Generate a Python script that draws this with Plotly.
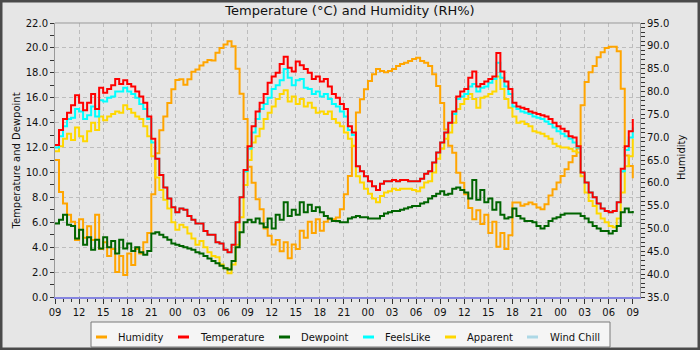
import pandas as pd
import plotly.graph_objects as go

# ---- data: 30-minute readings, 09:00 day 1 to 09:00 day 4 ----
start = pd.Timestamp("2024-05-10 09:00")
times = pd.date_range(start, periods=145, freq="30min")

hour_labels = ["09", "12", "15", "18", "21", "00", "03", "06"]

humidity = [
    65.0, 58.0, 55.5, 53.0, 51.5, 47.5, 52.0, 48.0, 50.5, 47.5, 53.0, 45.5,
    47.0, 44.0, 45.5, 40.5, 44.0, 39.8, 44.5, 42.0, 45.5, 44.5, 47.0, 49.0,
    57.5, 66.5, 71.5, 74.5, 77.5, 80.5, 82.5, 82.7, 81.5, 82.7, 84.3, 84.8,
    85.7, 86.4, 86.9, 86.8, 88.5, 89.5, 90.3, 91.0, 89.9, 85.0, 79.5, 74.0,
    63.5, 60.0, 56.4, 54.2, 50.0, 48.4, 46.5, 47.5, 45.0, 47.0, 43.5, 46.5,
    45.5, 49.5, 48.0, 51.5, 49.0, 52.0, 49.5, 51.5, 52.0, 52.0, 52.4, 54.2,
    57.5, 61.5, 68.1, 75.4, 78.3, 80.5, 82.3, 83.8, 84.9, 84.5, 84.2, 84.5,
    84.9, 85.6, 86.0, 86.3, 86.7, 87.1, 87.4, 86.7, 86.3, 85.6, 83.8, 81.2,
    77.5, 71.7, 68.1, 66.6, 62.2, 60.0, 57.5, 54.5, 52.0, 54.0, 51.0, 53.0,
    49.0, 51.5, 46.0, 49.0, 45.5, 48.5, 55.7, 55.7, 55.0, 55.3, 55.7, 55.3,
    54.6, 54.2, 55.3, 57.2, 58.6, 60.1, 61.5, 63.0, 64.5, 65.9, 67.5, 77.0,
    82.1, 84.2, 85.6, 87.5, 88.6, 89.5, 89.8, 89.8, 88.8, 80.6, 66.0, 63.7,
    61.0,
]

temperature = [
    12.2, 13.4, 14.3, 14.8, 15.4, 16.2, 15.6, 15.0, 15.6, 16.3, 15.1, 16.8,
    16.4, 16.7, 17.0, 17.5, 17.1, 17.4, 17.1, 16.9, 16.5, 16.1, 15.6, 14.5,
    12.7, 11.1, 9.8, 8.8, 7.9, 7.2, 6.8, 7.1, 7.0, 6.5, 6.2, 5.9,
    5.9, 5.3, 5.0, 5.0, 4.4, 4.3, 3.8, 3.6, 4.2, 6.0, 8.0, 10.2,
    12.1, 13.7, 14.9, 15.6, 16.3, 17.2, 17.7, 18.0, 18.7, 19.3, 18.4, 18.1,
    18.9, 18.6, 18.3, 18.0, 17.5, 17.7, 17.3, 17.5, 16.9, 16.3, 16.0, 15.5,
    15.1, 13.7, 13.2, 10.5, 10.1, 9.7, 9.3, 8.9, 8.6, 9.1, 9.3, 9.3,
    9.4, 9.3, 9.4, 9.4, 9.3, 9.3, 9.3, 9.5, 9.9, 10.1, 10.8, 11.6,
    12.4, 13.2, 14.0, 14.9, 16.1, 16.5, 16.7, 17.6, 18.1, 16.9, 17.1, 17.3,
    17.5, 17.7, 19.6, 18.1, 17.3, 16.7, 15.6, 15.3, 15.2, 15.1, 14.9, 14.8,
    14.7, 14.6, 14.5, 14.3, 14.0, 13.7, 13.5, 13.3, 12.9, 12.8, 12.1, 10.0,
    9.2, 8.4, 8.0, 7.5, 7.1, 6.9, 6.8, 6.9, 7.6, 10.3, 12.1, 13.3,
    14.3,
]

dewpoint = [
    5.9, 6.2, 6.6, 5.8, 5.7, 4.7, 5.4, 4.2, 4.8, 3.8, 4.6, 3.9,
    4.8, 4.0, 4.5, 3.5, 4.6, 3.9, 4.3, 3.7, 4.0, 3.6, 3.4, 3.7,
    5.1, 5.2, 5.0, 4.8, 4.6, 4.3, 4.2, 4.1, 4.0, 3.9, 3.8, 3.6,
    3.5, 3.3, 3.1, 2.9, 2.7, 2.5, 2.3, 2.2, 2.9, 4.0, 5.2, 6.0,
    6.2, 6.0, 6.3, 5.9, 5.6, 6.3, 5.5, 6.6, 6.2, 7.6, 6.5, 7.0,
    6.6, 7.6, 6.8, 7.4, 6.9, 7.2, 6.8, 6.5, 6.3, 6.1, 6.1, 6.0,
    6.0, 6.3, 6.4, 6.5, 6.4, 6.4, 6.3, 6.3, 6.3, 6.5, 6.7, 6.8,
    6.9, 6.9, 7.0, 7.1, 7.2, 7.3, 7.3, 7.5, 7.6, 7.9, 8.1, 8.3,
    8.5, 8.2, 8.3, 8.7, 8.8, 8.6, 8.4, 7.9, 9.4, 7.8, 8.6, 7.6,
    7.9, 7.0, 7.6, 6.6, 6.3, 6.4, 7.1, 6.5, 6.3, 6.1, 6.1, 6.0,
    5.7, 5.5, 5.7, 6.1, 6.3, 6.4, 6.6, 6.7, 6.7, 6.7, 6.7, 6.5,
    6.3, 6.0, 5.7, 5.5, 5.3, 5.3, 5.1, 5.3, 5.7, 6.8, 7.1, 6.8,
    6.9,
]

feels_like = [
    12.0, 12.9, 13.7, 14.3, 14.4, 15.1, 14.9, 14.3, 14.6, 15.3, 14.5, 15.8,
    15.7, 16.0, 16.1, 16.5, 16.5, 16.8, 16.5, 16.3, 16.0, 15.5, 15.1, 14.3,
    12.4, 11.1, 9.8, 8.8, 7.9, 7.2, 6.8, 7.1, 7.0, 6.5, 6.2, 5.9,
    5.9, 5.3, 5.0, 5.0, 4.4, 4.3, 3.8, 3.6, 4.2, 6.0, 8.0, 10.1,
    11.9, 13.2, 14.3, 15.1, 15.5, 16.0, 16.7, 17.0, 17.4, 18.3, 17.6, 17.0,
    17.4, 17.5, 16.8, 16.7, 16.3, 16.5, 16.1, 16.3, 15.9, 15.5, 15.3, 14.9,
    14.5, 13.4, 13.0, 10.5, 10.1, 9.7, 9.3, 8.9, 8.6, 9.1, 9.3, 9.3,
    9.4, 9.3, 9.4, 9.4, 9.3, 9.3, 9.3, 9.5, 9.9, 10.1, 10.8, 11.6,
    12.4, 13.2, 14.0, 14.7, 15.9, 16.1, 16.3, 16.9, 17.1, 16.5, 16.8, 16.9,
    17.2, 17.5, 18.8, 17.6, 16.9, 16.3, 15.3, 15.1, 14.9, 14.8, 14.7, 14.5,
    14.4, 14.3, 14.1, 13.9, 13.6, 13.3, 13.1, 12.9, 12.7, 12.4, 12.0, 10.0,
    9.2, 8.4, 8.0, 7.5, 7.1, 6.9, 6.8, 6.9, 7.6, 10.1, 11.8, 12.8,
    13.6,
]

apparent = [
    11.7, 12.1, 12.7, 13.1, 12.6, 13.6, 12.9, 12.5, 13.3, 14.0, 13.4, 14.5,
    14.2, 14.5, 14.7, 14.9, 14.8, 15.4, 15.1, 14.8, 14.5, 14.3, 13.7, 12.9,
    11.3, 9.6, 8.6, 7.8, 7.1, 6.0, 5.4, 5.8, 5.6, 5.1, 4.7, 4.2,
    4.5, 4.0, 3.6, 3.3, 3.2, 2.6, 2.3, 1.9, 2.6, 4.2, 6.4, 9.0,
    11.0, 12.4, 12.9, 13.5, 14.3, 14.8, 15.3, 15.9, 16.3, 16.6, 15.7, 16.1,
    15.5, 15.9, 15.3, 15.6, 15.2, 14.8, 14.9, 14.7, 14.9, 14.3, 14.0, 13.7,
    13.2, 12.7, 12.1, 9.7, 9.2, 8.7, 8.3, 7.9, 7.6, 8.1, 8.4, 8.5,
    8.7, 8.6, 8.7, 8.7, 8.7, 8.6, 8.5, 8.8, 9.2, 9.3, 10.0, 11.1,
    11.9, 12.7, 13.2, 14.0, 15.1, 15.5, 15.9, 16.3, 15.9, 15.2, 16.0, 16.1,
    16.3, 16.5, 17.7, 16.7, 15.9, 15.2, 14.5, 14.0, 14.1, 13.9, 13.7, 13.3,
    13.2, 13.1, 12.9, 12.7, 12.3, 12.1, 12.0, 12.0, 11.9, 11.7, 11.6, 9.7,
    8.4, 7.7, 7.3, 6.7, 6.3, 6.0, 5.7, 5.6, 6.3, 8.4, 10.5, 11.3,
    12.7,
]

# legend entries in display order: (name, colour)
legend_items = [
    ("Humidity", "#FFA500"),
    ("Temperature", "#FF0000"),
    ("Dewpoint", "#006400"),
    ("FeelsLike", "#00FFFF"),
    ("Apparent", "#FFD700"),
    ("Wind Chill", "#ADD8E6"),
]
colour = dict(legend_items)

# ---- page geometry (pixels) ----
W, H = 700, 350
L, R, T, B = 55, 640, 23, 297
PW, PH = R - L, B - T
FONT = "DejaVu Sans"


def px(x):
    return (x - L) / PW


def py(y):
    return (B - y) / PH


fig = go.Figure()

# humidity sits on the primary (right-hand) axis so it is drawn underneath
fig.add_trace(go.Scatter(x=times, y=humidity, name="Humidity", yaxis="y",
                         mode="lines", line=dict(color=colour["Humidity"], width=2, shape="hv")))
for name, values in [("Apparent", apparent), ("FeelsLike", feels_like),
                     ("Dewpoint", dewpoint), ("Temperature", temperature)]:
    fig.add_trace(go.Scatter(x=times, y=values, name=name, yaxis="y2", mode="lines",
                             line=dict(color=colour[name], width=2, shape="hv")))

hours = pd.Timedelta(hours=1)
fig.update_layout(
    width=W, height=H,
    margin=dict(l=L, r=W - R, t=T, b=H - B, pad=0),
    paper_bgcolor="#e6e6e6", plot_bgcolor="#e6e6e6",
    showlegend=False,
    font=dict(family=FONT, size=10, color="#111111"),
    title=dict(text="Temperature (°C) and Humidity (RH%)", x=0.5, xref="container",
               xanchor="center", y=1 - 10 / H, yanchor="middle",
               font=dict(family=FONT, size=13, color="#111111")),
    xaxis=dict(
        type="date", range=[start, start + 72.9 * hours],
        tick0=start, dtick=3 * 3600 * 1000, tickformat="%H",
        ticks="outside", ticklen=5, tickcolor="#333333", tickwidth=1,
        showgrid=True, gridcolor="#bdbdbd", griddash="4px,3px", gridwidth=1,
        showline=True, linecolor="#8585e0", linewidth=2, zeroline=False,
        minor=dict(dtick=3600 * 1000, ticks="outside", ticklen=3,
                   tickcolor="#333333", showgrid=False),
        tickfont=dict(size=10, color="#111111"),
    ),
    yaxis=dict(
        side="right", range=[35, 95], dtick=5, tickformat=".1f",
        ticks="outside", ticklen=4, tickcolor="#333333",
        minor=dict(dtick=1, ticks="outside", ticklen=4, tickcolor="#333333", showgrid=False),
        showgrid=False, showline=True, linecolor="#999999", zeroline=False,
        tickfont=dict(size=10, color="#111111"),
    ),
    yaxis2=dict(
        side="left", overlaying="y", range=[0, 22], dtick=2, tickformat=".1f",
        ticks="outside", ticklen=4, tickcolor="#333333",
        minor=dict(dtick=1, ticks="outside", ticklen=4, tickcolor="#333333", showgrid=False),
        showgrid=True, gridcolor="#bdbdbd", griddash="4px,3px", gridwidth=1,
        showline=True, linecolor="#999999", zeroline=False,
        tickfont=dict(size=10, color="#111111"),
    ),
)

shapes = [
    # top edge of the plot frame
    dict(type="line", xref="paper", yref="paper", x0=0, x1=1, y0=1, y1=1,
         line=dict(color="#999999", width=1)),
    # legend box
    dict(type="rect", xref="paper", yref="paper", x0=px(91), x1=px(610),
         y0=py(347), y1=py(322), fillcolor="#f5f5f5", line=dict(color="#7a7a7a", width=1)),
    # outer frame of the image
    dict(type="rect", xref="paper", yref="paper", x0=px(0), x1=px(W),
         y0=py(H), y1=py(0), line=dict(color="#4a4a4a", width=5)),
]

annotations = [
    dict(text="Temperature and Dewpoint", xref="paper", yref="paper",
         x=px(16.5), y=py(161), textangle=-90, showarrow=False,
         xanchor="center", yanchor="middle", font=dict(size=10, color="#111111")),
    dict(text="Humidity", xref="paper", yref="paper",
         x=px(681), y=py(158), textangle=-90, showarrow=False,
         xanchor="center", yanchor="middle", font=dict(size=10, color="#111111")),
]

# hand-placed horizontal legend
symbol_x = [96, 178, 279, 363, 445, 527]
label_x = [116, 198, 299, 383, 465, 548]
legend_y = 337
for (name, col), sx, lx in zip(legend_items, symbol_x, label_x):
    shapes.append(dict(type="line", xref="paper", yref="paper",
                       x0=px(sx), x1=px(sx + 11), y0=py(legend_y), y1=py(legend_y),
                       line=dict(color=col, width=3)))
    annotations.append(dict(text=name, xref="paper", yref="paper", x=px(lx), y=py(legend_y),
                            showarrow=False, xanchor="left", yanchor="middle",
                            font=dict(size=10, color="#111111")))

fig.update_layout(shapes=shapes, annotations=annotations)
fig.write_html("out.html")
